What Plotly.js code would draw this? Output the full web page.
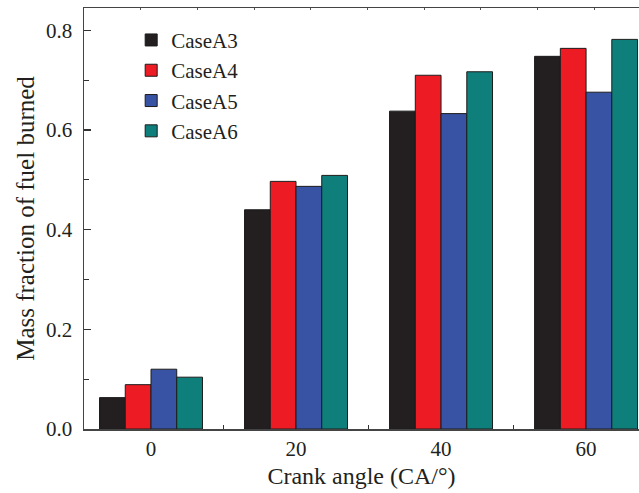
<!DOCTYPE html>
<html>
<head>
<meta charset="utf-8">
<script src="https://cdn.plot.ly/plotly-3.0.1.min.js"></script>
<style>
  html, body { margin: 0; padding: 0; background: #ffffff; }
  #chart { width: 639px; height: 493px; }
</style>
</head>
<body>
<div id="chart"></div>
<script>
// Crank angle positions (°CA) and burned fuel mass fraction per case
const crankAngles = [0, 20, 40, 60];
const caseNames = ['CaseA3', 'CaseA4', 'CaseA5', 'CaseA6'];
const caseA3 = [0.063, 0.440, 0.638, 0.748];
const caseA4 = [0.089, 0.497, 0.710, 0.764];
const caseA5 = [0.120, 0.487, 0.633, 0.676];
const caseA6 = [0.104, 0.509, 0.717, 0.782];
const caseColors = ['#231f20', '#ed1c24', '#3953a4', '#0e7f7b'];
const yTicks = [0.0, 0.2, 0.4, 0.6, 0.8];

const seriesValues = [caseA3, caseA4, caseA5, caseA6];
const ink = '#231f20';
const serif = '"Liberation Serif", "Times New Roman", Times, serif';

const traces = seriesValues.map((vals, i) => ({
  type: 'bar',
  name: caseNames[i],
  x: crankAngles,
  y: vals,
  marker: { color: caseColors[i], line: { color: '#1c1c1c', width: 1 } },
  hoverinfo: 'x+y+name'
}));

const layout = {
  width: 639,
  height: 493,
  margin: { l: 84, r: 0, t: 8, b: 64 },
  paper_bgcolor: '#ffffff',
  plot_bgcolor: '#ffffff',
  barmode: 'group',
  bargap: 0.29,
  bargroupgap: 0,
  font: { family: serif, color: ink, size: 21 },
  showlegend: true,
  legend: {
    x: 0.085, y: 0.972, xanchor: 'left', yanchor: 'top',
    bgcolor: 'rgba(0,0,0,0)',
    font: { family: serif, size: 21, color: ink },
    tracegroupgap: 0
  },
  xaxis: {
    range: [-9.24, 67.3],
    tickvals: crankAngles,
    ticktext: crankAngles.map(String),
    ticks: 'inside', ticklen: 4, tickwidth: 1.2, tickcolor: '#333',
    minor: { tickvals: [10, 30, 50], ticks: 'inside', ticklen: 4, tickwidth: 1.2, tickcolor: '#333' },
    showline: true, linecolor: '#444', linewidth: 1.5,
    showgrid: false, zeroline: false,
    layer: 'below traces',
    ticklabelstandoff: 0,
    tickfont: { family: serif, size: 21, color: ink },
    title: { text: 'Crank angle (CA/°)', font: { family: serif, size: 24, color: ink }, standoff: 7 }
  },
  xaxis2: {
    overlaying: 'x',
    side: 'top',
    range: [0, 9.79],
    tickvals: [1, 2, 3, 4, 5, 6, 7, 8, 9],
    showticklabels: false,
    ticks: 'inside', ticklen: 2, tickwidth: 1, tickcolor: '#555',
    showline: true, linecolor: '#444', linewidth: 1.5,
    showgrid: false, zeroline: false
  },
  yaxis: {
    range: [0, 0.845],
    tickvals: yTicks,
    tickformat: '.1f',
    ticks: 'inside', ticklen: 7, tickwidth: 1.2, tickcolor: '#333',
    minor: { dtick: 0.1, tick0: 0, ticks: 'inside', ticklen: 5, tickwidth: 1.2, tickcolor: '#333' },
    showline: true, linecolor: '#444', linewidth: 1.5,
    showgrid: false, zeroline: false,
    ticklabelstandoff: 6,
    tickfont: { family: serif, size: 21, color: ink },
    title: { text: 'Mass fraction of fuel burned', font: { family: serif, size: 25, color: ink }, standoff: 4 }
  }
};

// invisible carrier trace so the top axis is drawn
traces.push({
  type: 'scatter', x: [], y: [], xaxis: 'x2', yaxis: 'y',
  showlegend: false, hoverinfo: 'skip'
});

Plotly.newPlot('chart', traces, layout, { displayModeBar: false, staticPlot: true });
</script>
</body>
</html>
